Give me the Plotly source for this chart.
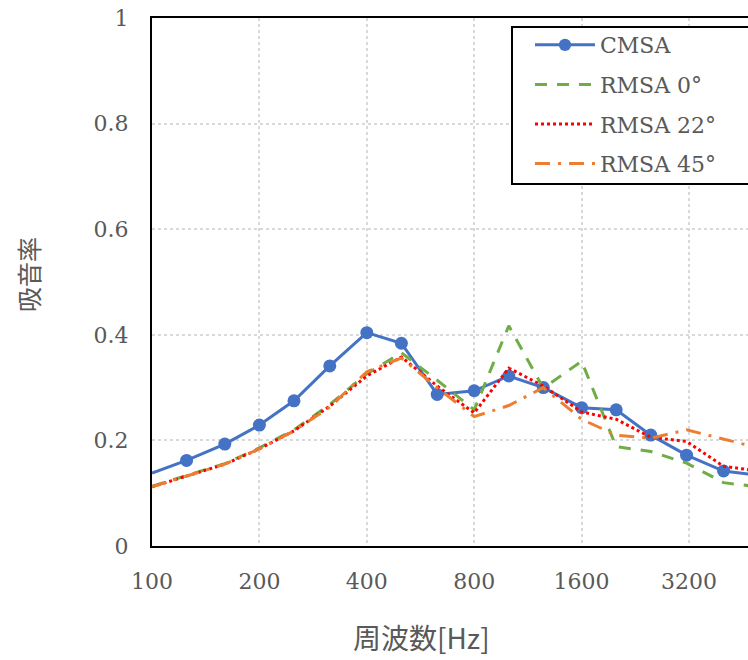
import plotly.graph_objects as go

freq = [100, 125, 160, 200, 250, 315, 400, 500, 630, 800, 1000, 1250, 1600, 2000, 2500, 3150, 4000, 5000]
cmsa = [0.138, 0.162, 0.193, 0.229, 0.275, 0.341, 0.404, 0.384, 0.287, 0.294, 0.322, 0.300, 0.262, 0.258, 0.210, 0.172, 0.142, 0.134]
rmsa0 = [0.113, 0.133, 0.156, 0.186, 0.220, 0.268, 0.326, 0.366, 0.314, 0.258, 0.417, 0.299, 0.350, 0.188, 0.179, 0.157, 0.120, 0.112]
rmsa22 = [0.112, 0.133, 0.155, 0.184, 0.218, 0.265, 0.322, 0.358, 0.303, 0.252, 0.337, 0.303, 0.254, 0.240, 0.206, 0.198, 0.151, 0.142]
rmsa45 = [0.112, 0.133, 0.155, 0.184, 0.218, 0.263, 0.330, 0.356, 0.300, 0.245, 0.266, 0.300, 0.240, 0.210, 0.204, 0.220, 0.203, 0.186]

xticks = [100, 200, 400, 800, 1600, 3200]
xticktext = ["100", "200", "400", "800", "1600", "3200"]
yticks = [0, 0.2, 0.4, 0.6, 0.8, 1.0]
yticktext = ["0", "0.2", "0.4", "0.6", "0.8", "1"]

names = ["CMSA", "RMSA 0°", "RMSA 22°", "RMSA 45°"]
xtitle = "周波数[Hz]"
ytitle = "吸音率"

SERIF = "DejaVu Serif, Liberation Serif, serif"
CJK = "Noto Sans CJK JP"
GREY = "#595959"

# plot-area geometry in pixels (for converting layout positions)
L, T, W, H = 152, 18, 596, 528
def px(x):
    return (x - L) / W
def py(y):
    return (T + H - y) / H

fig = go.Figure()
marker_sizes = [0] + [13] * (len(freq) - 1)
fig.add_trace(go.Scatter(x=freq, y=cmsa, name=names[0], mode="lines+markers",
                         line=dict(color="#4472C4", width=3),
                         marker=dict(size=marker_sizes, color="#4472C4", opacity=1,
                                     line=dict(width=0)),
                         legendgroup="a"))
fig.add_trace(go.Scatter(x=freq, y=rmsa0, name=names[1], mode="lines",
                         line=dict(color="#70AD47", width=3, dash="12px,10px"),
                         legendgroup="b"))
fig.add_trace(go.Scatter(x=freq, y=rmsa22, name=names[2], mode="lines",
                         line=dict(color="#FF0000", width=3, dash="3px,3px"),
                         legendgroup="c"))
fig.add_trace(go.Scatter(x=freq, y=rmsa45, name=names[3], mode="lines",
                         line=dict(color="#ED7D31", width=3, dash="15px,8px,3px,8px"),
                         legendgroup="d"))

fig.update_layout(
    width=748, height=660,
    margin=dict(l=L, r=0, t=T, b=660 - T - H, autoexpand=False),
    paper_bgcolor="white", plot_bgcolor="white",
    font=dict(family=SERIF, size=22, color=GREY),
    showlegend=True,
    legend=dict(x=px(530), y=py(24), xanchor="left", yanchor="top",
                bgcolor="rgba(0,0,0,0)", borderwidth=0,
                font=dict(family=SERIF, size=22, color=GREY),
                tracegroupgap=8, traceorder="grouped", itemwidth=60),
    shapes=[dict(type="rect", xref="paper", yref="paper",
                 x0=px(512), x1=px(770), y0=py(184), y1=py(27),
                 line=dict(color="black", width=2), fillcolor="white", layer="above")],
    xaxis=dict(type="log", range=[2, 3.6705], tickvals=xticks, ticktext=xticktext,
               showgrid=True, gridcolor="#d9d9d9", gridwidth=2, griddash="dot",
               showline=True, linecolor="black", linewidth=2, mirror=True,
               ticks="", ticklabelstandoff=15, zeroline=False,
               tickfont=dict(family=SERIF, size=22, color=GREY)),
    yaxis=dict(range=[0, 1], tickvals=yticks, ticktext=yticktext,
               showgrid=True, gridcolor="#d9d9d9", gridwidth=2, griddash="dot",
               showline=True, linecolor="black", linewidth=2, mirror=False,
               ticks="", ticklabelstandoff=17, zeroline=False,
               tickfont=dict(family=SERIF, size=22, color=GREY)),
    annotations=[
        dict(text=xtitle, xref="paper", yref="paper", x=px(421), y=py(637),
             showarrow=False, xanchor="center", yanchor="middle",
             font=dict(family=CJK, size=28, color=GREY)),
        dict(text=ytitle, xref="paper", yref="paper", x=px(28), y=py(275),
             showarrow=False, xanchor="center", yanchor="middle", textangle=-90,
             font=dict(family=CJK, size=25, color=GREY)),
    ],
)

fig.write_html("out.html")
